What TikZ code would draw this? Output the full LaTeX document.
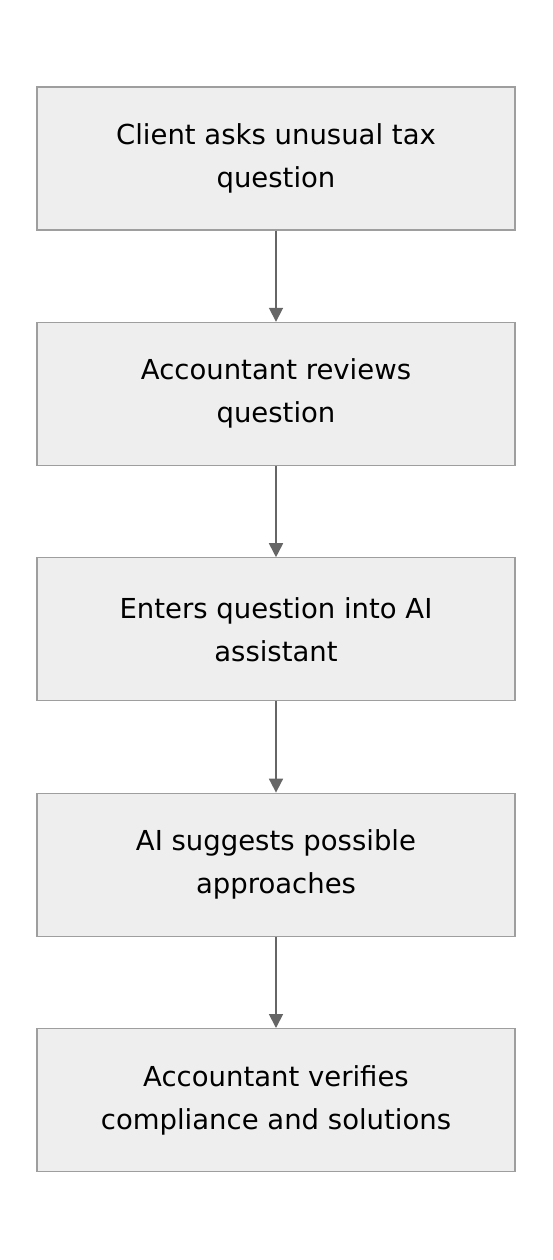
\documentclass[tikz,border=0pt]{standalone}
\usepackage{fontspec}
\setmainfont{DejaVu Sans}
\usetikzlibrary{positioning, arrows.meta}
\definecolor{boxfill}{HTML}{EEEEEE}
\definecolor{boxline}{HTML}{9E9E9E}
\definecolor{arrowgray}{HTML}{666666}

\begin{document}
\begin{tikzpicture}[x=1pt, y=-1pt,
    stepbox/.style={rectangle,
      draw=boxline,
      fill=boxfill,
      line width=1.2pt,
      minimum width=478pt,
      minimum height=143pt,
      align=center,
      font=\fontsize{27.5}{43}\selectfont},
    flow/.style={-{Triangle[length=14pt, width=14pt]},
      draw=arrowgray,
      fill=arrowgray,
      line width=1.8pt}]

  \useasboundingbox (0,0) rectangle (552,1260);

% STEPS

  \node [stepbox] (ask) at (276,158.5) {Client asks unusual tax\\question};

  \node [stepbox, below=91.2pt of ask] (review) {Accountant reviews\\question};

  \node [stepbox, below=91.2pt of review] (enter) {Enters question into AI\\assistant};

  \node [stepbox, below=91.2pt of enter] (suggest) {AI suggests possible\\approaches};

  \node [stepbox, below=91.2pt of suggest] (verify) {Accountant verifies\\compliance and solutions};

  % ARROWS

  \draw[flow] (ask) -- (review);
  \draw[flow] (review) -- (enter);
  \draw[flow] (enter) -- (suggest);
  \draw[flow] (suggest) -- (verify);

\end{tikzpicture}
\end{document}
